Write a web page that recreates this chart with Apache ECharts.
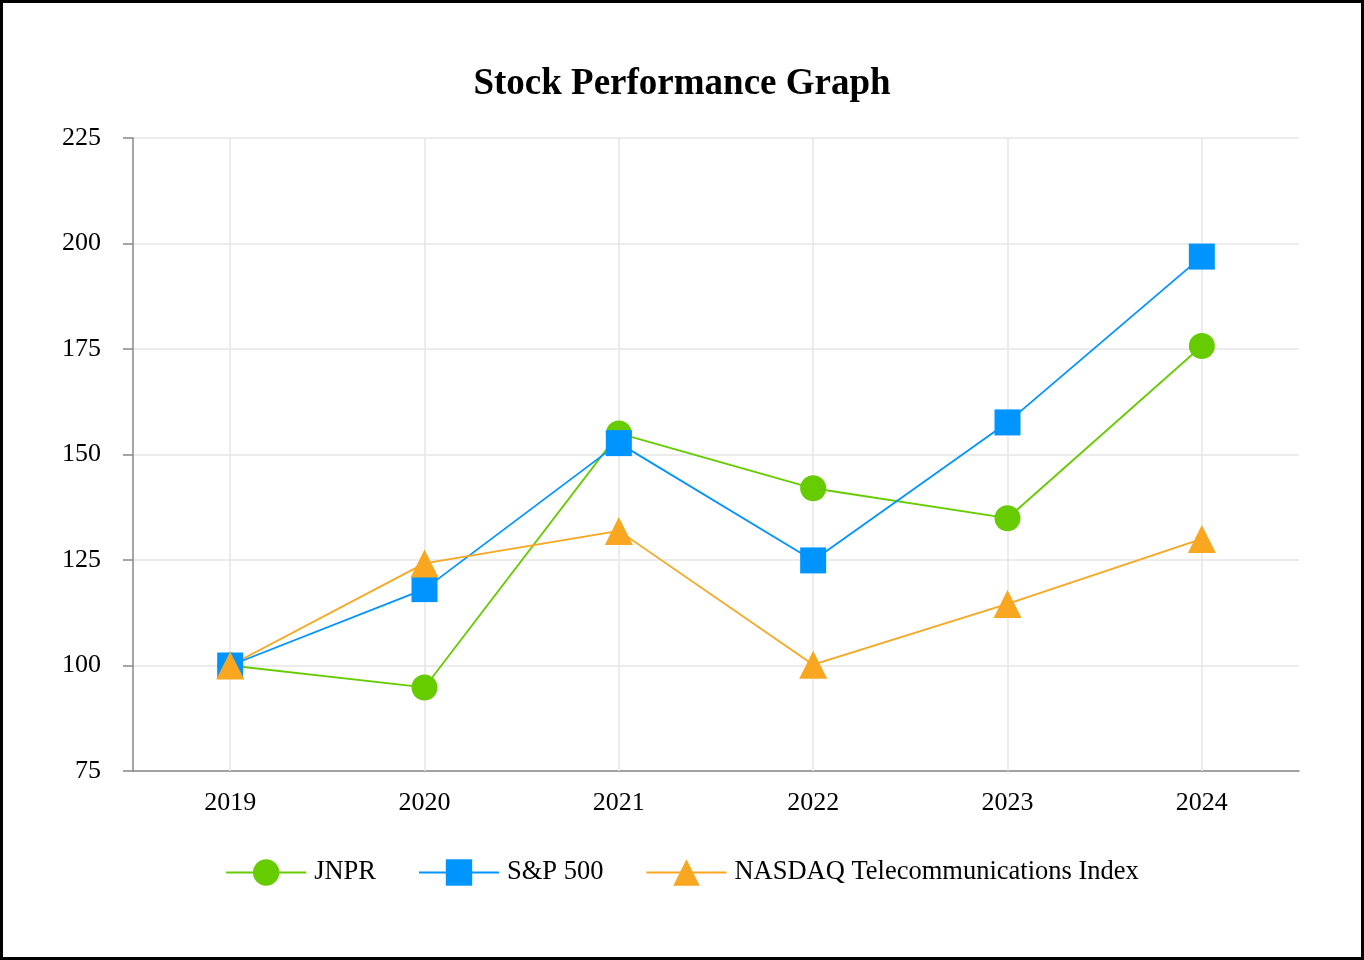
<!DOCTYPE html>
<html>
<head>
<meta charset="utf-8">
<script src="https://cdn.jsdelivr.net/npm/echarts@6/dist/echarts.min.js"></script>
<style>
html,body{margin:0;padding:0;background:#fff;}
#c{width:1364px;height:960px;box-sizing:border-box;border:3px solid #000;}
</style>
</head>
<body>
<div id="c"></div>
<script>
const categories = ['2019','2020','2021','2022','2023','2024'];
const jnpr = [100, 94.8, 155.0, 142.0, 134.9, 175.7];
const sp500 = [100, 118.1, 152.7, 124.9, 157.6, 196.9];
const nasdaq = [100, 124.2, 131.9, 100.2, 114.6, 130.0];
const seriesNames = ['JNPR', 'S&P 500', 'NASDAQ Telecommunications Index'];
const yTicks = {min: 75, max: 225, interval: 25};

const font = '"Liberation Serif", "Times New Roman", serif';
const chart = echarts.init(document.getElementById('c'));
function mkSeries(name, data, color, symbol, extra) {
  return Object.assign({
    name: name, type: 'line', data: data,
    symbol: symbol, symbolSize: symbol === 'triangle' ? [28, 28] : 26,
    lineStyle: {color: color, width: 1.8},
    itemStyle: {color: color},
    emphasis: {disabled: true},
    z: 3
  }, extra || {});
}
chart.setOption({
  animation: false,
  title: {
    text: 'Stock Performance Graph', left: 'center', top: 58,
    textStyle: {fontFamily: font, fontSize: 37, fontWeight: 'bold', color: '#000'}
  },
  legend: {
    bottom: 66, left: 'center', itemWidth: 80, itemHeight: 33, itemGap: 42,
    textStyle: {fontFamily: font, fontSize: 26.5, color: '#000', padding: [0,0,0,3]},
    data: seriesNames
  },
  grid: {left: 130, right: 62, top: 135, bottom: 186, containLabel: false},
  xAxis: {
    type: 'category', data: categories, boundaryGap: true,
    axisLine: {lineStyle: {color: '#888', width: 1.5}},
    axisTick: {alignWithLabel: true, length: 8, lineStyle: {color: '#888', width: 1.5}},
    axisLabel: {fontFamily: font, fontSize: 26, color: '#000', margin: 19},
    splitLine: {show: false}
  },
  yAxis: {
    type: 'value', min: yTicks.min, max: yTicks.max, interval: yTicks.interval,
    axisLine: {show: true, lineStyle: {color: '#888', width: 1.5}},
    axisTick: {show: true, length: 10, lineStyle: {color: '#888', width: 1.5}},
    axisLabel: {fontFamily: font, fontSize: 26, color: '#000', margin: 32},
    splitLine: {lineStyle: {color: '#e6e6e6', width: 1.5}}
  },
  series: [
    mkSeries(seriesNames[0], jnpr, '#66CC00', 'circle', {
      markLine: {
        silent: true, symbol: ['none','none'], label: {show: false},
        lineStyle: {color: '#e6e6e6', width: 1.5, type: 'solid'},
        z: 1,
        data: categories.map(c => ({xAxis: c}))
      }
    }),
    mkSeries(seriesNames[1], sp500, '#0094FF', 'rect'),
    mkSeries(seriesNames[2], nasdaq, '#F9A620', 'triangle')
  ]
});
</script>
</body>
</html>
